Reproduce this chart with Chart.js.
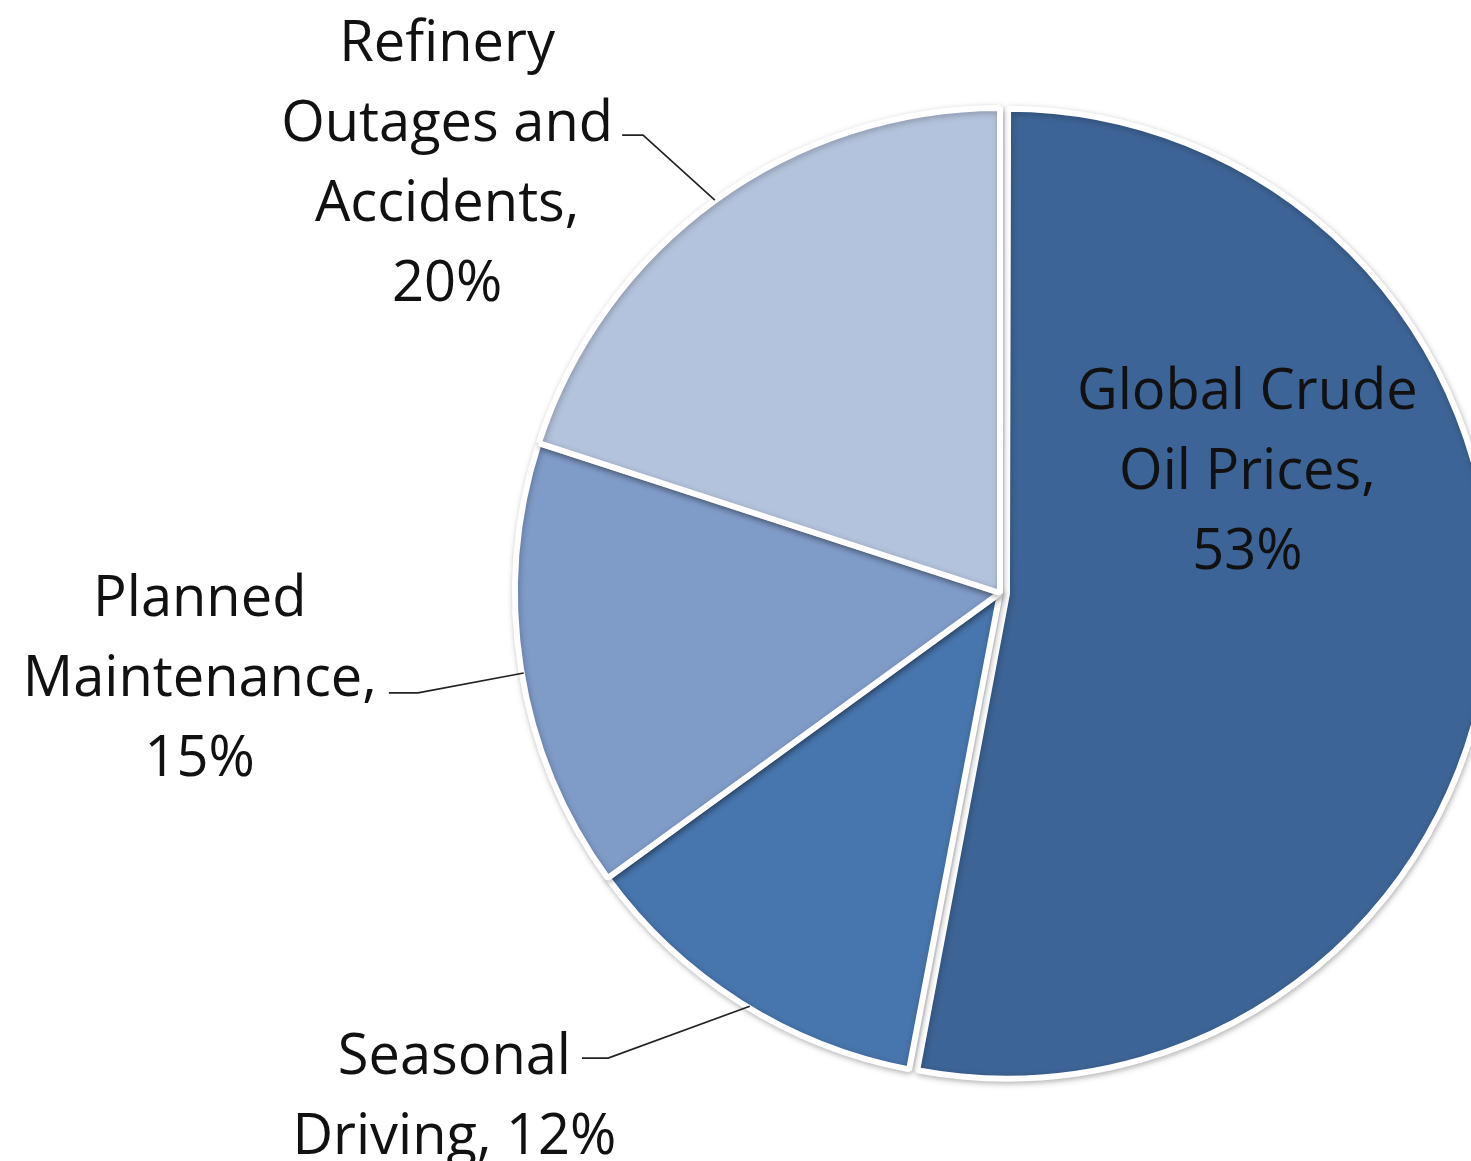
<!DOCTYPE html>
<html>
<head>
<meta charset="utf-8">
<script src="https://cdn.jsdelivr.net/npm/chart.js@4/dist/chart.umd.min.js"></script>
<style>
  html, body { margin: 0; padding: 0; background: #ffffff; overflow: hidden; }
  #wrap { width: 1471px; height: 1161px; position: relative; }
</style>
</head>
<body>
<div id="wrap"><canvas id="c" width="1471" height="1161"></canvas></div>
<script>
// ---- data ----
const categories = ['Global Crude Oil Prices', 'Seasonal Driving', 'Planned Maintenance', 'Refinery Outages and Accidents'];
const shares = [53, 12, 15, 20];
const sliceColors = ['#3D6496', '#4775AD', '#7F9BC8', '#B4C3DD'];
const labelLines = [
  ['Global Crude', 'Oil Prices,', '{v}%'],
  ['Seasonal', 'Driving, {v}%'],
  ['Planned', 'Maintenance,', '{v}%'],
  ['Refinery', 'Outages and', 'Accidents,', '{v}%']
];

// ---- label placement (relative to pie centre, in units of radius) ----
const placement = [
  { text: [0.51, -0.258], leader: null },
  { text: [-1.125, 1.031], leader: [[-0.516, 0.852], [-0.808, 0.959], [-0.862, 0.959]] },
  { text: [-1.65, 0.169], leader: [[-0.982, 0.165], [-1.20, 0.206], [-1.26, 0.206]] },
  { text: [-1.140, -0.893], leader: [[-0.588, -0.810], [-0.736, -0.944], [-0.779, -0.944]] }
];

// keep an exploded slice at the same radius as the others
const explodeFix = {
  id: 'explodeFix',
  afterDatasetUpdate(chart, args) {
    const meta = chart.getDatasetMeta(args.index);
    meta.data.forEach(arc => {
      const off = (arc.options && arc.options.offset) || 0;
      if (off) arc.outerRadius = arc.outerRadius - off / 4;
    });
  }
};

const shadowPlugin = {
  id: 'pieShadow',
  beforeDatasetsDraw(chart) {
    const c = chart.ctx;
    c.save();
    c.shadowColor = 'rgba(0,0,0,0.25)';
    c.shadowBlur = 6;
    c.shadowOffsetX = 1;
    c.shadowOffsetY = 2;
  },
  afterDatasetsDraw(chart) {
    chart.ctx.restore();
  }
};

const labelPlugin = {
  id: 'sliceLabels',
  afterDraw(chart) {
    const ctx = chart.ctx;
    const meta = chart.getDatasetMeta(0);
    const lineH = 80;
    const r0 = meta.data[1].outerRadius;
    ctx.save();
    ctx.font = '56px "Open Sans", "Liberation Sans", sans-serif';
    ctx.fillStyle = '#111111';
    ctx.textAlign = 'center';
    ctx.textBaseline = 'middle';
    meta.data.forEach((arc, i) => {
      const cx = meta.data[1].x, cy = meta.data[1].y, r = r0;
      const spec = placement[i];
      const lines = labelLines[i].map(s => s.replace('{v}', shares[i]));
      const tx = cx + spec.text[0] * r;
      const ty = cy + spec.text[1] * r;
      const y0 = ty - (lines.length - 1) * lineH / 2 + 5;
      lines.forEach((ln, k) => ctx.fillText(ln, tx, y0 + k * lineH));
      if (spec.leader) {
        ctx.beginPath();
        ctx.strokeStyle = '#222222';
        ctx.lineWidth = 1.6;
        spec.leader.forEach((pt, k) => {
          const x = cx + pt[0] * r, y = cy + pt[1] * r;
          if (k === 0) ctx.moveTo(x, y); else ctx.lineTo(x, y);
        });
        ctx.stroke();
      }
    });
    ctx.restore();
  }
};

new Chart(document.getElementById('c'), {
  type: 'pie',
  data: {
    labels: categories,
    datasets: [{
      data: shares,
      backgroundColor: sliceColors,
      borderColor: '#ffffff',
      borderWidth: 6,
      offset: [28, 0, 0, 0],
      radius: 485,
      clip: false
    }]
  },
  options: {
    responsive: false,
    animation: false,
    devicePixelRatio: 1,
    layout: { padding: { left: 529, right: 0, top: 25, bottom: 0 } },
    plugins: {
      legend: { display: false },
      tooltip: { enabled: false }
    }
  },
  plugins: [explodeFix, shadowPlugin, labelPlugin]
});
</script>
</body>
</html>
